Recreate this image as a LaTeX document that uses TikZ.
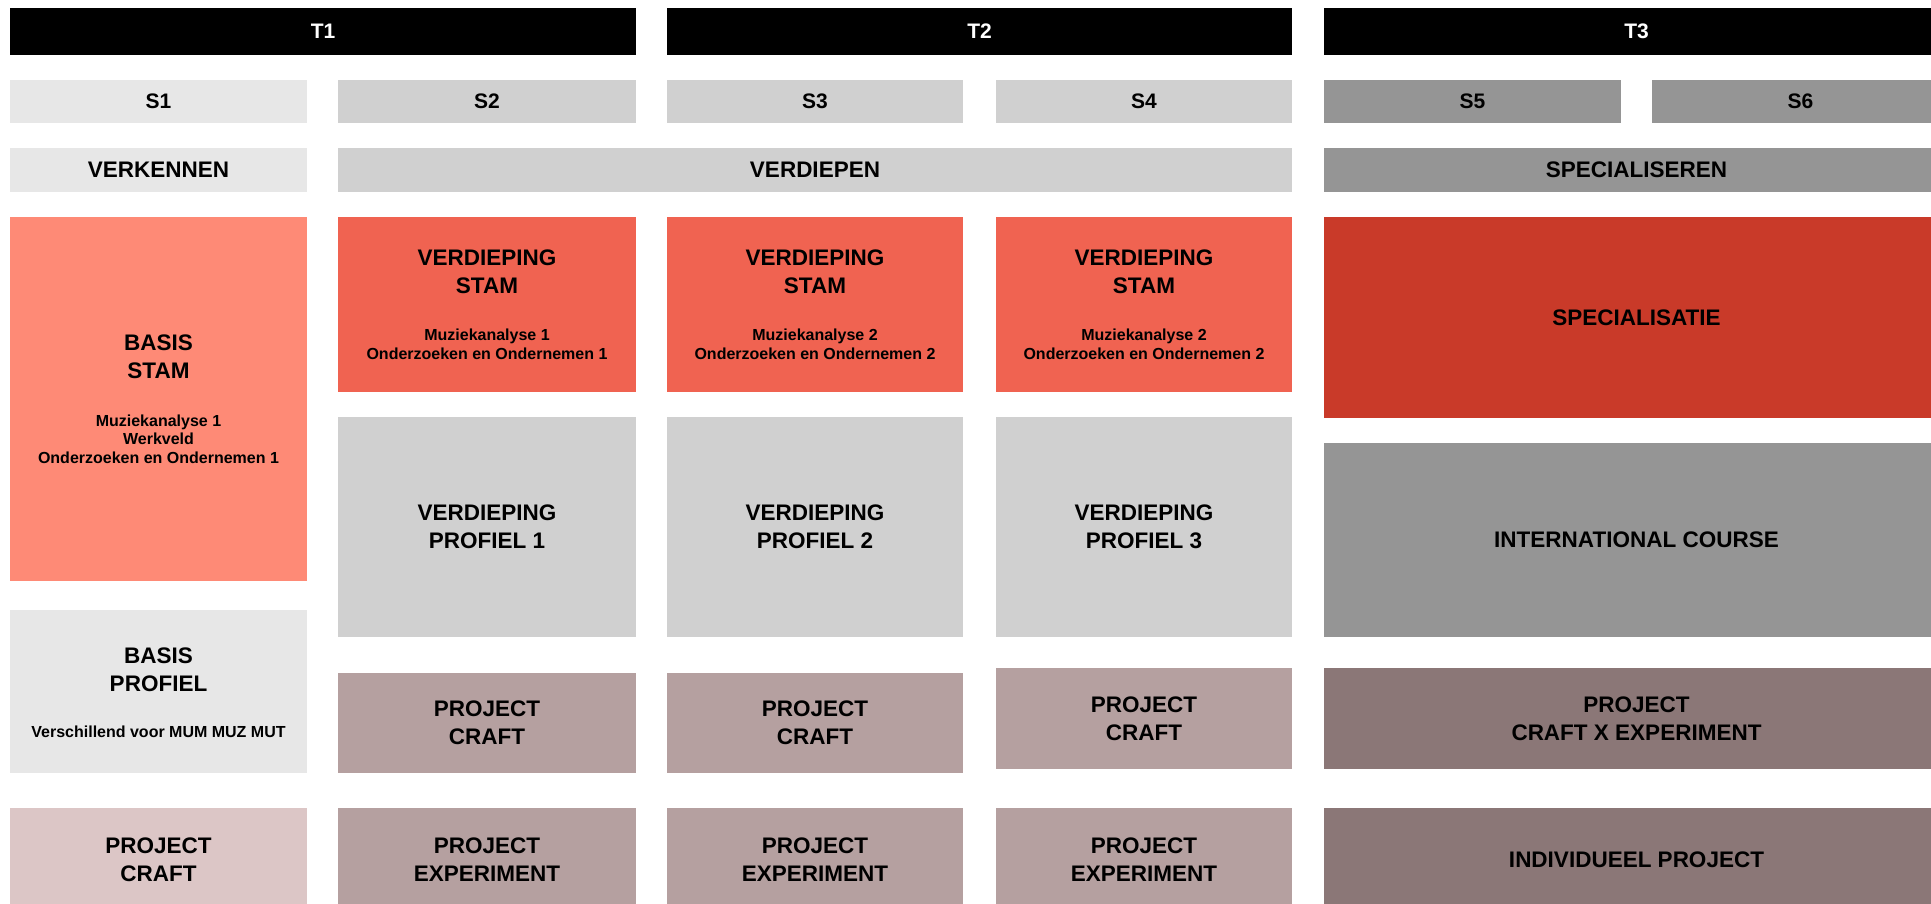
\documentclass[tikz,border=0pt]{standalone}
\usepackage{fontspec}
\setmainfont{Liberation Sans}
\definecolor{cLight}{HTML}{E7E7E7}
\definecolor{cMid}{HTML}{D0D0D0}
\definecolor{cDark}{HTML}{959595}
\definecolor{cSalmon}{HTML}{FE8A76}
\definecolor{cCoral}{HTML}{F06351}
\definecolor{cRed}{HTML}{C93A29}
\definecolor{cPink}{HTML}{DCC6C6}
\definecolor{cMauve}{HTML}{B5A0A0}
\definecolor{cDMauve}{HTML}{8B7777}
\newcommand\cellat[6]{%
  \node[cellbox, fill=#2, minimum width={(#5-#3)*1pt}, minimum height={(#6-#4)*1pt}]
    (#1) at ({(#3+#5)/2},{(#4+#6)/2}) {};}
\tikzset{
  cellbox/.style={rectangle, inner sep=0pt, outer sep=0pt, draw=none},
  bigtxt/.style={inner sep=0pt, align=center, text=black, font=\bfseries\fontsize{22.5}{28}\selectfont},
  subtxt/.style={inner sep=0pt, align=center, text=black, font=\bfseries\fontsize{16}{18.5}\selectfont},
  hdrtxt/.style={inner sep=0pt, text=white, font=\bfseries\fontsize{21}{25}\selectfont},
  semtxt/.style={inner sep=0pt, text=black, font=\bfseries\fontsize{21}{25}\selectfont},
}
\begin{document}
\begin{tikzpicture}[x=1pt,y=-1pt]
\path[use as bounding box, clip] (0,0) rectangle (1931,904);
\fill[white] (0,0) rectangle (1931,904);
% Years
\cellat{t1}{black}{10}{8}{636}{55}
\cellat{t2}{black}{667}{8}{1292}{55}
\cellat{t3}{black}{1324}{8}{1949}{55}
\node[hdrtxt] (t1l) at (t1.center) {T1};
\node[hdrtxt] (t2l) at (t2.center) {T2};
\node[hdrtxt] (t3l) at (t3.center) {T3};
% Semesters
\cellat{s1}{cLight}{10}{80}{307}{123}
\cellat{s2}{cMid}{338}{80}{636}{123}
\cellat{s3}{cMid}{667}{80}{963}{123}
\cellat{s4}{cMid}{996}{80}{1292}{123}
\cellat{s5}{cDark}{1324}{80}{1621}{123}
\cellat{s6}{cDark}{1652}{80}{1949}{123}
\foreach \n/\t in {s1/S1,s2/S2,s3/S3,s4/S4,s5/S5,s6/S6}
  \node[semtxt] (\n l) at (\n.center) {\t};
% Phases
\cellat{p1}{cLight}{10}{148}{307}{192}
\cellat{p2}{cMid}{338}{148}{1292}{192}
\cellat{p3}{cDark}{1324}{148}{1949}{192}
\node[bigtxt] (p1l) at (p1.center) {VERKENNEN};
\node[bigtxt] (p2l) at (p2.center) {VERDIEPEN};
\node[bigtxt] (p3l) at (p3.center) {SPECIALISEREN};
% Basis stam
\cellat{bs}{cSalmon}{10}{217}{307}{581}
\node[bigtxt] (bst) at ([yshift=42pt]bs.center) {BASIS\\STAM};
\node[subtxt] (bss) at ([yshift=-40pt]bs.center) {Muziekanalyse 1\\Werkveld\\Onderzoeken en Ondernemen 1};
% Verdieping stam
\cellat{vs2}{cCoral}{338}{217}{636}{392}
\cellat{vs3}{cCoral}{667}{217}{963}{392}
\cellat{vs4}{cCoral}{996}{217}{1292}{392}
\node[bigtxt] (vs2t) at ([yshift=32.5pt]vs2.center) {VERDIEPING\\STAM};
\node[subtxt] (vs2s) at ([yshift=-40pt]vs2.center) {Muziekanalyse 1\\Onderzoeken en Ondernemen 1};
\node[bigtxt] (vs3t) at ([yshift=32.5pt]vs3.center) {VERDIEPING\\STAM};
\node[subtxt] (vs3s) at ([yshift=-40pt]vs3.center) {Muziekanalyse 2\\Onderzoeken en Ondernemen 2};
\node[bigtxt] (vs4t) at ([yshift=32.5pt]vs4.center) {VERDIEPING\\STAM};
\node[subtxt] (vs4s) at ([yshift=-40pt]vs4.center) {Muziekanalyse 2\\Onderzoeken en Ondernemen 2};
% Specialisatie
\cellat{sp}{cRed}{1324}{217}{1949}{418}
\node[bigtxt] (spl) at (sp.center) {SPECIALISATIE};
% Verdieping profiel
\cellat{vp2}{cMid}{338}{417}{636}{637}
\cellat{vp3}{cMid}{667}{417}{963}{637}
\cellat{vp4}{cMid}{996}{417}{1292}{637}
\node[bigtxt] (vp2l) at (vp2.center) {VERDIEPING\\PROFIEL 1};
\node[bigtxt] (vp3l) at (vp3.center) {VERDIEPING\\PROFIEL 2};
\node[bigtxt] (vp4l) at (vp4.center) {VERDIEPING\\PROFIEL 3};
% International course
\cellat{ic}{cDark}{1324}{443}{1949}{637}
\node[bigtxt] (icl) at (ic.center) {INTERNATIONAL COURSE};
% Basis profiel
\cellat{bp}{cLight}{10}{610}{307}{773}
\node[bigtxt] (bpt) at ([yshift=21.5pt]bp.center) {BASIS\\PROFIEL};
\node[subtxt] (bps) at ([yshift=-40.5pt]bp.center) {Verschillend voor MUM MUZ MUT};
% Project craft
\cellat{pc2}{cMauve}{338}{673}{636}{773}
\cellat{pc3}{cMauve}{667}{673}{963}{773}
\cellat{pc4}{cMauve}{996}{668}{1292}{769}
\cellat{pcx}{cDMauve}{1324}{668}{1949}{769}
\node[bigtxt] (pc2l) at (pc2.center) {PROJECT\\CRAFT};
\node[bigtxt] (pc3l) at (pc3.center) {PROJECT\\CRAFT};
\node[bigtxt] (pc4l) at (pc4.center) {PROJECT\\CRAFT};
\node[bigtxt] (pcxl) at (pcx.center) {PROJECT\\CRAFT X EXPERIMENT};
% Bottom row
\cellat{b1}{cPink}{10}{808}{307}{912}
\cellat{b2}{cMauve}{338}{808}{636}{912}
\cellat{b3}{cMauve}{667}{808}{963}{912}
\cellat{b4}{cMauve}{996}{808}{1292}{912}
\cellat{b5}{cDMauve}{1324}{808}{1949}{912}
\node[bigtxt] (b1l) at (b1.center) {PROJECT\\CRAFT};
\node[bigtxt] (b2l) at (b2.center) {PROJECT\\EXPERIMENT};
\node[bigtxt] (b3l) at (b3.center) {PROJECT\\EXPERIMENT};
\node[bigtxt] (b4l) at (b4.center) {PROJECT\\EXPERIMENT};
\node[bigtxt] (b5l) at (b5.center) {INDIVIDUEEL PROJECT};
\end{tikzpicture}
\end{document}
